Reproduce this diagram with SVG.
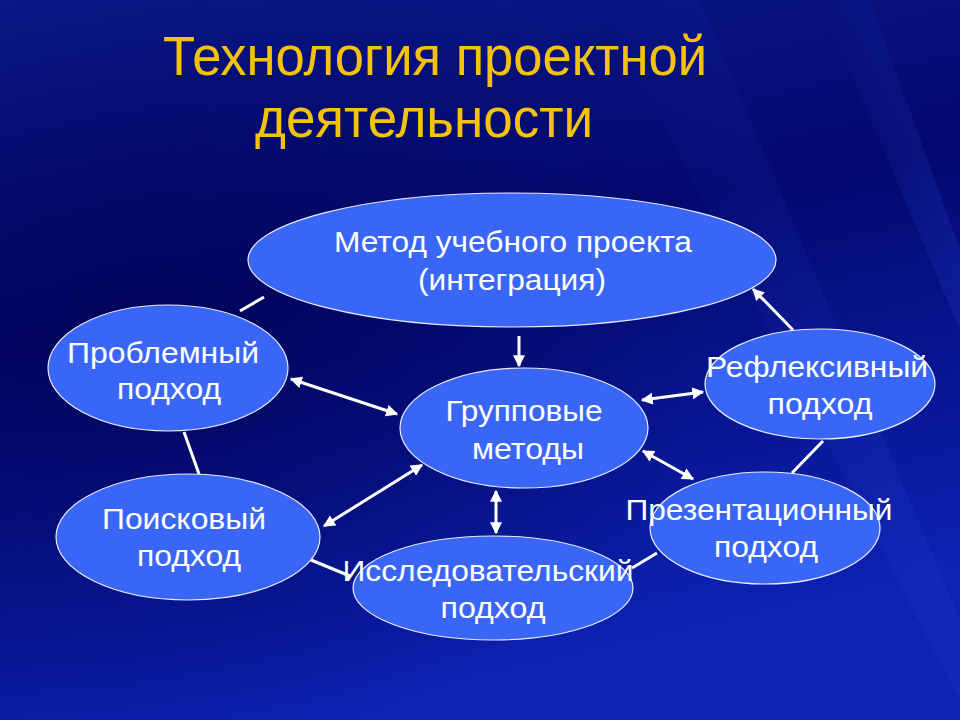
<svg xmlns="http://www.w3.org/2000/svg" width="960" height="720" viewBox="0 0 960 720">
<defs>
<linearGradient id="bg" x1="0" y1="0" x2="0.3" y2="1">
<stop offset="0" stop-color="#0c1b8e"/>
<stop offset="0.45" stop-color="#03086e"/>
<stop offset="1" stop-color="#0c22b2"/>
</linearGradient>
<radialGradient id="glow" cx="0.15" cy="0.45" r="0.6">
<stop offset="0" stop-color="#000050" stop-opacity="0.6"/>
<stop offset="1" stop-color="#000050" stop-opacity="0"/>
</radialGradient>
<linearGradient id="streak" x1="0" y1="0" x2="1" y2="0">
<stop offset="0" stop-color="#2a4ad8" stop-opacity="0"/>
<stop offset="1" stop-color="#2a4ad8" stop-opacity="0.35"/>
</linearGradient>
<marker id="ah" viewBox="0 0 10 10" refX="9" refY="5" markerWidth="4" markerHeight="4" orient="auto-start-reverse" markerUnits="strokeWidth">
<path d="M0,0 L10,5 L0,10 z" fill="#ffffff"/>
</marker>
<style>
.node ellipse{fill:#3a66f7;stroke:#e8ecff;stroke-width:1.2}
.node text{font-family:"Liberation Sans",Arial,sans-serif;font-size:30px;fill:#ffffff;text-anchor:middle}
.title{font-family:"Liberation Sans",Arial,sans-serif;font-size:56px;fill:#f5c20a;text-anchor:middle}
.c line{stroke:#ffffff;stroke-width:3;fill:none}
.c .d{marker-start:url(#ah);marker-end:url(#ah)}
.c .s{marker-end:url(#ah)}
</style>
</defs>
<rect width="960" height="720" fill="url(#bg)"/>
<rect width="960" height="720" fill="url(#glow)"/>
<path d="M600,0 L700,0 L960,620 L960,700 Z" fill="url(#streak)" opacity="0.5"/>
<path d="M820,0 L870,0 L960,250 L960,330 Z" fill="url(#streak)" opacity="0.6"/>

<g id="title">
<text class="title" x="435" y="75" textLength="544" lengthAdjust="spacingAndGlyphs">Технология проектной</text>
<text class="title" x="424" y="137" textLength="338" lengthAdjust="spacingAndGlyphs">деятельности</text>
</g>

<g id="connectors" class="c">
<line x1="264" y1="297" x2="240" y2="311"/>
<line class="d" x1="291" y1="379" x2="397" y2="414"/>
<line x1="184" y1="432" x2="199" y2="474"/>
<line class="s" x1="519" y1="336" x2="519" y2="366"/>
<line class="d" x1="422" y1="465" x2="324" y2="526"/>
<line class="d" x1="496" y1="491" x2="496" y2="533"/>
<line x1="311" y1="560" x2="350" y2="576"/>
<line class="d" x1="642" y1="400" x2="703" y2="392"/>
<line class="d" x1="643" y1="451" x2="693" y2="479"/>
<line class="s" x1="793" y1="330" x2="753" y2="289"/>
<line x1="823" y1="441" x2="792" y2="473"/>
<line x1="632" y1="568" x2="657" y2="553"/>
</g>

<g id="n-metod" class="node">
<ellipse cx="512" cy="260" rx="264" ry="67"/>
<text x="513" y="252" textLength="358" lengthAdjust="spacingAndGlyphs">Метод учебного проекта</text>
<text x="512" y="290" textLength="188" lengthAdjust="spacingAndGlyphs">(интеграция)</text>
</g>
<g id="n-problem" class="node">
<ellipse cx="168" cy="368" rx="120" ry="63"/>
<text x="163" y="363" textLength="192" lengthAdjust="spacingAndGlyphs">Проблемный</text>
<text x="169" y="399" textLength="104" lengthAdjust="spacingAndGlyphs">подход</text>
</g>
<g id="n-group" class="node">
<ellipse cx="524" cy="428" rx="124" ry="60"/>
<text x="524" y="421" textLength="157" lengthAdjust="spacingAndGlyphs">Групповые</text>
<text x="528" y="459" textLength="112" lengthAdjust="spacingAndGlyphs">методы</text>
</g>
<g id="n-reflex" class="node">
<ellipse cx="820" cy="384" rx="115" ry="55"/>
<text x="817" y="377" textLength="222" lengthAdjust="spacingAndGlyphs">Рефлексивный</text>
<text x="820" y="414" textLength="105" lengthAdjust="spacingAndGlyphs">подход</text>
</g>
<g id="n-poisk" class="node">
<ellipse cx="188" cy="537" rx="132" ry="63"/>
<text x="184" y="529" textLength="164" lengthAdjust="spacingAndGlyphs">Поисковый</text>
<text x="189" y="566" textLength="104" lengthAdjust="spacingAndGlyphs">подход</text>
</g>
<g id="n-issled" class="node">
<ellipse cx="493" cy="588" rx="140" ry="52"/>
<text x="488" y="581" textLength="291" lengthAdjust="spacingAndGlyphs">Исследовательский</text>
<text x="493" y="618" textLength="105" lengthAdjust="spacingAndGlyphs">подход</text>
</g>
<g id="n-prez" class="node">
<ellipse cx="765" cy="528" rx="115" ry="56"/>
<text x="759" y="520" textLength="267" lengthAdjust="spacingAndGlyphs">Презентационный</text>
<text x="766" y="557" textLength="104" lengthAdjust="spacingAndGlyphs">подход</text>
</g>
</svg>
